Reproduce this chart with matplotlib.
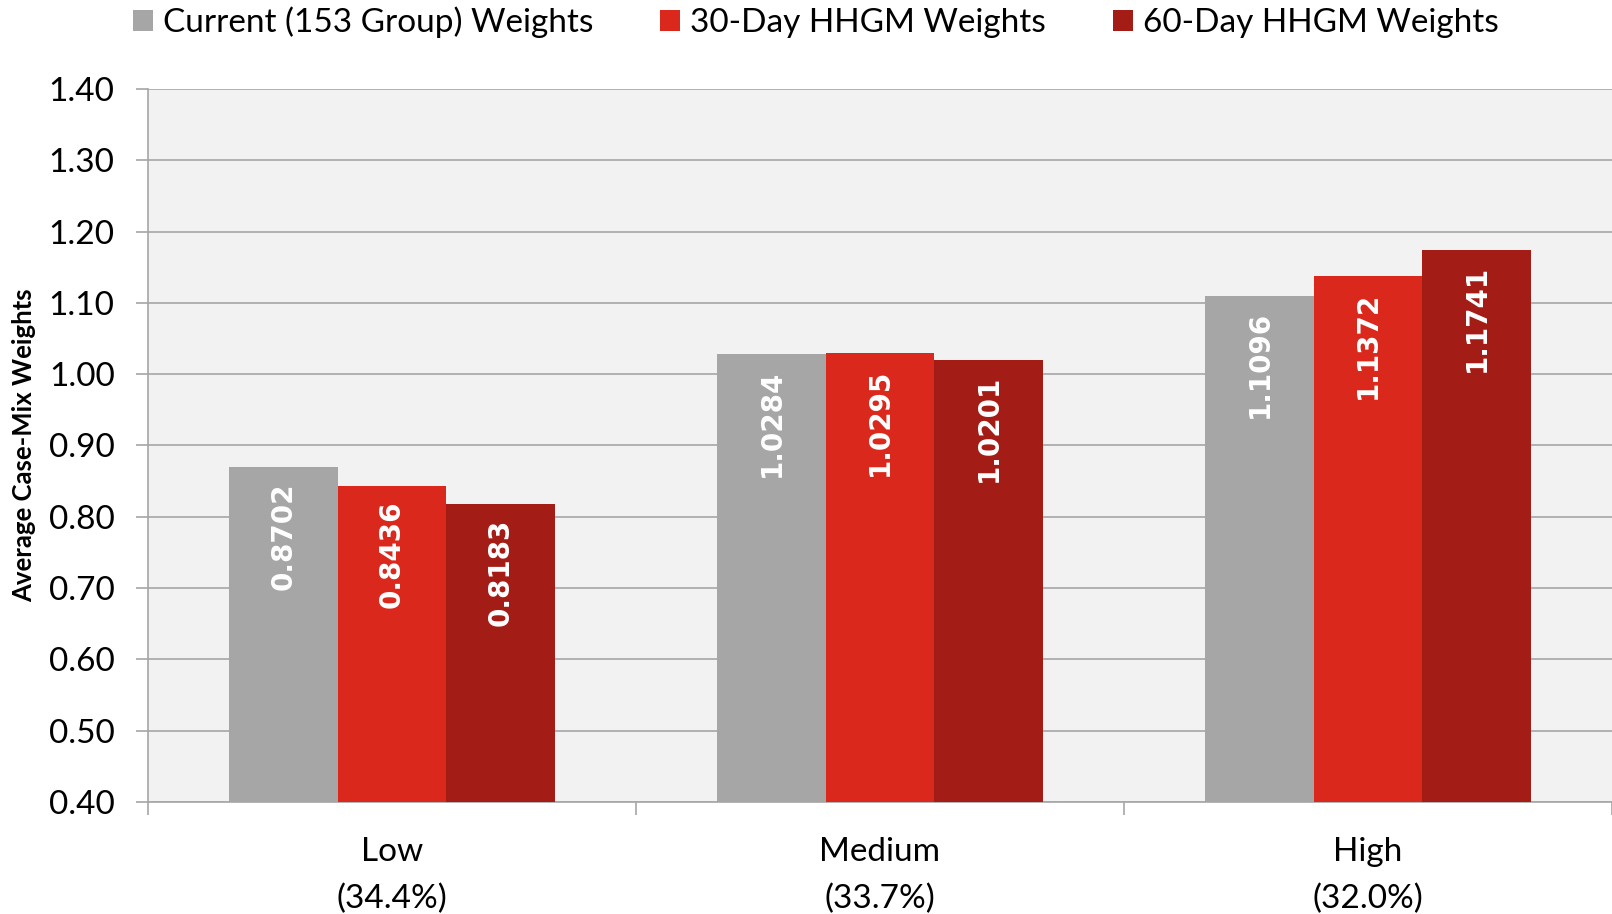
import matplotlib
matplotlib.use('Agg')
import matplotlib.pyplot as plt
import numpy as np

# Data
categories = ['Low\n(34.4%)', 'Medium\n(33.7%)', 'High\n(32.0%)']
series_names = ['Current (153 Group) Weights', '30-Day HHGM Weights', '60-Day HHGM Weights']
current = [0.8702, 1.0284, 1.1096]
hhgm_30 = [0.8436, 1.0295, 1.1372]
hhgm_60 = [0.8183, 1.0201, 1.1741]
y_ticks = [0.40, 0.50, 0.60, 0.70, 0.80, 0.90, 1.00, 1.10, 1.20, 1.30, 1.40]

COLORS = ['#A6A6A6', '#DA291C', '#A31C16']
GRID = '#A6A6A6'
BG = '#F2F2F2'

plt.rcParams['font.family'] = ['Lato', 'DejaVu Sans']

fig = plt.figure(figsize=(16.12, 9.14), dpi=100)
ax = fig.add_axes([148 / 1612, 1 - 802 / 914, 1 - 148 / 1612, (802 - 89) / 914])
ax.set_facecolor(BG)

x = np.arange(len(categories))
width = 1 / 4.5
for i, (vals, name, col) in enumerate(zip([current, hhgm_30, hhgm_60], series_names, COLORS)):
    pos = x + (i - 1) * width
    ax.bar(pos, np.array(vals) - 0.4, width, bottom=0.4, color=col, label=name, zorder=3)
    for px, v in zip(pos, vals):
        ax.annotate(f'{v:.4f}', xy=(px, v), xytext=(0, -11), textcoords='offset points',
                    rotation=90, ha='center', va='top', color='white',
                    fontsize=20, fontweight='bold', family='DejaVu Sans', zorder=4)

ax.set_ylim(0.4, 1.4)
ax.set_xlim(-0.5, 2.5)
ax.set_yticks(y_ticks)
ax.set_yticklabels([f'{t:.2f}' for t in y_ticks], fontsize=24)
ax.yaxis.grid(True, color=GRID, linewidth=1.2, zorder=0)
ax.set_axisbelow(True)

# category labels at centers, tick marks at boundaries
ax.set_xticks(x)
ax.set_xticklabels(categories, fontsize=24, linespacing=1.68)
ax.tick_params(axis='x', which='major', length=0, pad=25)
ax.set_xticks([-0.5, 0.5, 1.5, 2.5], minor=True)
ax.tick_params(axis='x', which='minor', length=9, width=1.2, color=GRID)
ax.tick_params(axis='y', length=9, width=1.2, color=GRID, pad=15)

for s in ['top', 'right']:
    ax.spines[s].set_visible(False)
for s in ['left', 'bottom']:
    ax.spines[s].set_color(GRID)
    ax.spines[s].set_linewidth(1.2)

ax.set_ylabel('Average Case-Mix Weights', fontsize=18.5, fontweight='bold')
ax.yaxis.set_label_coords(-0.0765, 0.5)

fig.legend(loc='upper center', bbox_to_anchor=(0.506, 1.026), ncol=3, frameon=False,
           fontsize=24, handlelength=0.6, handleheight=0.6, handletextpad=0.3,
           columnspacing=2.0)

fig.savefig('out.png', dpi=100)
